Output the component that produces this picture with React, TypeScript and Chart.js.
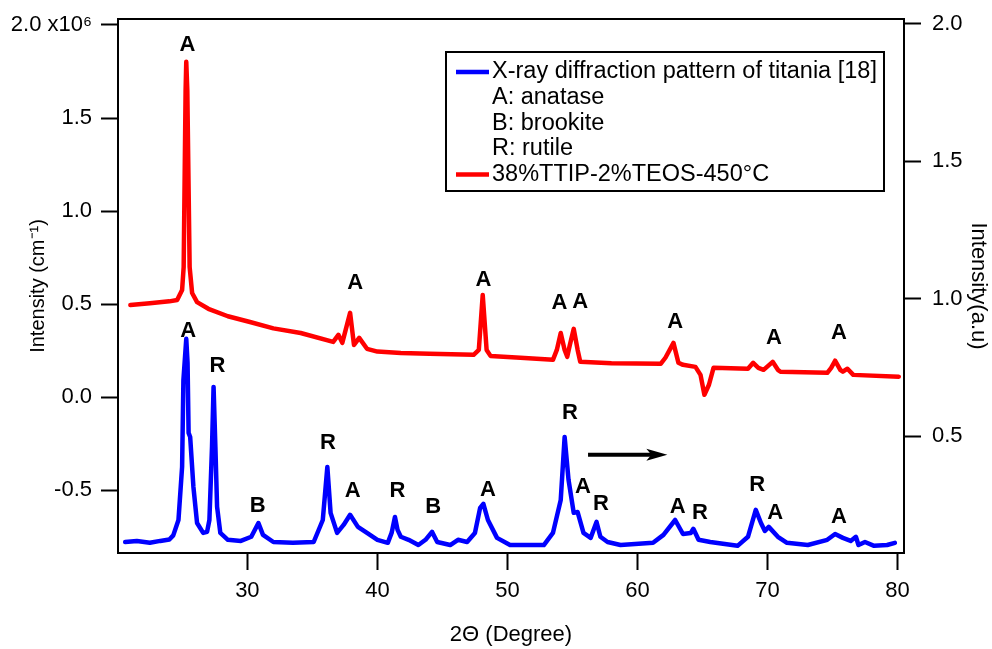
import React, { useEffect, useRef } from "react";
import { Chart, registerables } from "chart.js";

Chart.register(...registerables);

const FONT = "'Liberation Sans', Arial, Helvetica, sans-serif";

// Blue: X-ray diffraction pattern of titania [18]  (right axis, a.u.)
const blueX = [
  20.6, 21.5, 22.5, 23.3, 24.0, 24.3, 24.7, 24.98, 25.08, 25.3, 25.4, 25.48, 25.6, 25.85, 26.13, 26.6,
  26.9, 27.08, 27.28, 27.4, 27.54, 27.67, 27.92, 28.5, 29.5, 30.3, 30.85, 31.2, 32.0, 33.5, 35.1, 35.8,
  36.15, 36.4, 36.9, 37.4, 37.9, 38.5, 39.2, 40.0, 40.8, 41.1, 41.35, 41.55, 41.8, 42.4, 43.15, 43.7,
  44.2, 44.6, 45.6, 46.2, 46.9, 47.5, 47.9, 48.15, 48.5, 49.2, 50.2, 52.8, 53.5, 54.1, 54.4, 54.7,
  55.1, 55.4, 55.85, 56.4, 56.85, 57.15, 57.7, 58.7, 61.2, 62.0, 62.9, 63.5, 64.1, 64.3, 64.7, 65.6,
  67.7, 68.5, 69.1, 69.5, 69.8, 70.1, 70.8, 71.5, 73.1, 74.6, 75.2, 75.8, 76.4, 76.8, 77.0, 77.5,
  78.2, 79.2, 79.8,
];
const blueY = [
  0.116, 0.12, 0.113, 0.12, 0.125, 0.14, 0.196, 0.389, 0.705, 0.855, 0.767, 0.513, 0.498, 0.316, 0.185, 0.149,
  0.153, 0.196, 0.462, 0.68, 0.462, 0.244, 0.149, 0.124, 0.12, 0.135, 0.185, 0.142, 0.116, 0.113, 0.116, 0.196,
  0.389, 0.222, 0.149, 0.178, 0.215, 0.171, 0.149, 0.124, 0.113, 0.15, 0.207, 0.16, 0.135, 0.124, 0.105, 0.124,
  0.153, 0.116, 0.105, 0.124, 0.116, 0.149, 0.24, 0.255, 0.196, 0.131, 0.105, 0.105, 0.149, 0.269, 0.498, 0.342,
  0.222, 0.225, 0.149, 0.131, 0.189, 0.135, 0.116, 0.105, 0.113, 0.142, 0.196, 0.145, 0.149, 0.164, 0.124, 0.116,
  0.102, 0.135, 0.233, 0.185, 0.156, 0.171, 0.135, 0.113, 0.105, 0.124, 0.145, 0.131, 0.12, 0.135, 0.105, 0.116,
  0.102, 0.105, 0.113,
];

// Red: 38%TTIP-2%TEOS-450°C  (left axis, ×10^6 cm^-1)
const redX = [
  21.0, 22.5, 24.0, 24.6, 24.98, 25.1, 25.25, 25.3, 25.38, 25.56, 25.75, 26.13, 27.0, 28.5, 30.2, 32.0,
  34.1, 36.6, 37.0, 37.3, 37.9, 38.2, 38.6, 39.2, 40.0, 41.8, 44.0, 47.4, 47.8, 48.1, 48.4, 48.7,
  51.0, 53.5, 53.8, 54.1, 54.4, 54.6, 54.8, 55.1, 55.4, 55.6, 58.0, 61.8, 62.15, 62.77, 63.15, 63.5,
  64.46, 64.85, 65.15, 65.5, 65.85, 68.5, 68.9, 69.3, 69.7, 70.4, 70.8, 71.0, 74.6, 74.9, 75.2, 75.6,
  75.8, 76.15, 76.6, 80.1,
];
const redY = [
  0.495, 0.505, 0.515, 0.522, 0.576, 0.699, 1.65, 1.802, 1.65, 0.699, 0.56, 0.511, 0.475, 0.435, 0.404, 0.37,
  0.345, 0.297, 0.335, 0.292, 0.453, 0.281, 0.319, 0.26, 0.245, 0.238, 0.234, 0.228, 0.254, 0.549, 0.254, 0.222,
  0.212, 0.201, 0.254, 0.345, 0.254, 0.217, 0.281, 0.367, 0.254, 0.19, 0.183, 0.18, 0.212, 0.292, 0.185, 0.174,
  0.163, 0.12, 0.013, 0.067, 0.158, 0.153, 0.185, 0.158, 0.147, 0.19, 0.147, 0.137, 0.131, 0.158, 0.196, 0.147,
  0.137, 0.153, 0.12, 0.11,
];

// Peak phase labels
const redPeakX = [25.4, 38.3, 48.15, 54.0, 55.6, 62.9, 70.5, 75.5];
const redPeakY = [1.893, 0.613, 0.629, 0.506, 0.511, 0.404, 0.319, 0.345];
const redPeakText = ["A", "A", "A", "A", "A", "A", "A", "A"];

const bluePeakX = [25.45, 27.7, 30.8, 36.2, 38.1, 41.55, 44.3, 48.5, 54.8, 55.8, 57.2, 63.1, 64.8, 69.2, 70.6, 75.5];
const bluePeakY = [0.884, 0.756, 0.247, 0.476, 0.302, 0.302, 0.244, 0.305, 0.585, 0.316, 0.255, 0.244, 0.222, 0.324, 0.222, 0.207];
const bluePeakText = ["A", "R", "B", "R", "A", "R", "B", "A", "R", "A", "R", "A", "R", "R", "A", "A"];

// Arrow (right-axis coordinates)
const arrowX = [56.2, 62.3];
const arrowY = [0.433, 0.433];

const legendText = [
  "X-ray diffraction pattern of titania [18]",
  "A: anatase",
  "B: brookite",
  "R: rutile",
  "38%TTIP-2%TEOS-450°C",
];
const legendColor: (string | null)[] = ["#0000ff", null, null, null, "#ff0000"];

const overlayPlugin = {
  id: "overlay",
  afterDatasetsDraw(chart: any) {
    const { ctx, chartArea: a, scales } = chart;
    const xs = scales.x;
    const yl = scales.y;
    const yr = scales.y2;
    ctx.save();
    // frame
    ctx.strokeStyle = "#000";
    ctx.lineWidth = 2;
    ctx.strokeRect(a.left, a.top, a.right - a.left, a.bottom - a.top);

    // peak labels
    ctx.fillStyle = "#000";
    ctx.font = `bold 22px ${FONT}`;
    ctx.textAlign = "center";
    ctx.textBaseline = "middle";
    redPeakX.forEach((x, i) => {
      ctx.fillText(redPeakText[i], xs.getPixelForValue(x), yl.getPixelForValue(redPeakY[i]));
    });
    bluePeakX.forEach((x, i) => {
      ctx.fillText(bluePeakText[i], xs.getPixelForValue(x), yr.getPixelForValue(bluePeakY[i]));
    });

    // arrow
    const x0 = xs.getPixelForValue(arrowX[0]);
    const x1 = xs.getPixelForValue(arrowX[1]);
    const ya = yr.getPixelForValue(arrowY[0]);
    ctx.lineWidth = 4;
    ctx.beginPath();
    ctx.moveTo(x0, ya);
    ctx.lineTo(x1 - 12, ya);
    ctx.stroke();
    ctx.beginPath();
    ctx.moveTo(x1, ya);
    ctx.lineTo(x1 - 21, ya - 6);
    ctx.lineTo(x1 - 16, ya);
    ctx.lineTo(x1 - 21, ya + 6);
    ctx.closePath();
    ctx.fill();

    // legend
    const lx = a.left + 328;
    const ly = a.top + 33;
    const lw = 438;
    const lh = 139;
    ctx.lineWidth = 2;
    ctx.strokeStyle = "#000";
    ctx.strokeRect(lx, ly, lw, lh);
    ctx.font = `23.5px ${FONT}`;
    ctx.textAlign = "left";
    legendText.forEach((t, i) => {
      const y = ly + 20 + i * 25.6;
      const c = legendColor[i];
      if (c) {
        ctx.strokeStyle = c;
        ctx.lineWidth = 4.5;
        ctx.beginPath();
        ctx.moveTo(lx + 10, y);
        ctx.lineTo(lx + 43, y);
        ctx.stroke();
      }
      ctx.fillStyle = "#000";
      ctx.fillText(t, lx + 46, y);
    });
    ctx.restore();
  },
};

export default function App() {
  const ref = useRef<HTMLCanvasElement | null>(null);

  useEffect(() => {
    if (!ref.current) return;
    const tickFont = { family: FONT, size: 22 };
    const fixVertical = (w: number) => (s: any) => {
      s.width = w;
      s.paddingTop = 0;
      s.paddingBottom = 0;
    };
    const chart = new Chart(ref.current, {
      type: "scatter",
      data: {
        datasets: [
          {
            label: legendText[0],
            data: blueX.map((x, i) => ({ x, y: blueY[i] })),
            yAxisID: "y2",
            showLine: true,
            borderColor: "#0000ff",
            backgroundColor: "#0000ff",
            borderWidth: 4.5,
            pointRadius: 0,
            tension: 0,
            borderJoinStyle: "round",
            borderCapStyle: "round",
          },
          {
            label: legendText[4],
            data: redX.map((x, i) => ({ x, y: redY[i] })),
            yAxisID: "y",
            showLine: true,
            borderColor: "#ff0000",
            backgroundColor: "#ff0000",
            borderWidth: 4.5,
            pointRadius: 0,
            tension: 0,
            borderJoinStyle: "round",
            borderCapStyle: "round",
          },
        ],
      },
      options: {
        animation: false,
        responsive: true,
        maintainAspectRatio: false,
        layout: { padding: { top: 19, left: 0, right: 0, bottom: 0 } },
        plugins: { legend: { display: false }, tooltip: { enabled: false } },
        scales: {
          x: {
            type: "linear",
            position: "bottom",
            min: 20.05,
            max: 80.5,
            afterFit: (s: any) => {
              s.height = 96;
            },
            grid: { drawOnChartArea: false, drawTicks: true, tickLength: 17, tickColor: "#000", tickWidth: 2 },
            border: { display: true, color: "#000", width: 2 },
            ticks: {
              stepSize: 10,
              includeBounds: false,
              color: "#000",
              padding: 8,
              font: tickFont,
              maxRotation: 0,
              autoSkip: false,
            },
            title: {
              display: true,
              text: "2Θ (Degree)",
              color: "#000",
              font: tickFont,
              padding: { top: 0, bottom: 1 },
            },
          },
          y: {
            type: "linear",
            position: "left",
            min: -0.837,
            max: 2.032,
            afterFit: fixVertical(118),
            grid: { drawOnChartArea: false, drawTicks: true, tickLength: 17, tickColor: "#000", tickWidth: 2 },
            border: { display: true, color: "#000", width: 2 },
            ticks: {
              stepSize: 0.5,
              includeBounds: false,
              color: "#000",
              padding: 9,
              font: tickFont,
              callback: (v: any) => (Math.abs(Number(v) - 2) < 1e-9 ? "2.0 x10⁶" : Number(v).toFixed(1)),
            },
            title: {
              display: true,
              text: "Intensity (cm⁻¹)",
              color: "#000",
              font: { family: FONT, size: 20 },
              padding: { top: 26, bottom: 0 },
            },
          },
          y2: {
            type: "linear",
            position: "right",
            min: 0.076,
            max: 2.018,
            afterFit: fixVertical(88),
            grid: { drawOnChartArea: false, drawTicks: true, tickLength: 17, tickColor: "#000", tickWidth: 2 },
            border: { display: true, color: "#000", width: 2 },
            ticks: {
              stepSize: 0.5,
              includeBounds: false,
              color: "#000",
              padding: 11,
              font: tickFont,
              callback: (v: any) => Number(v).toFixed(1),
            },
            title: {
              display: true,
              text: "Intensity(a.u)",
              color: "#000",
              font: tickFont,
              padding: { top: 1, bottom: 0 },
            },
          },
        },
      },
      plugins: [overlayPlugin],
    } as any);
    return () => chart.destroy();
  }, []);

  return (
    <div style={{ position: "fixed", left: 0, top: 0, width: 992, height: 649, background: "#fff" }}>
      <canvas ref={ref} />
    </div>
  );
}
